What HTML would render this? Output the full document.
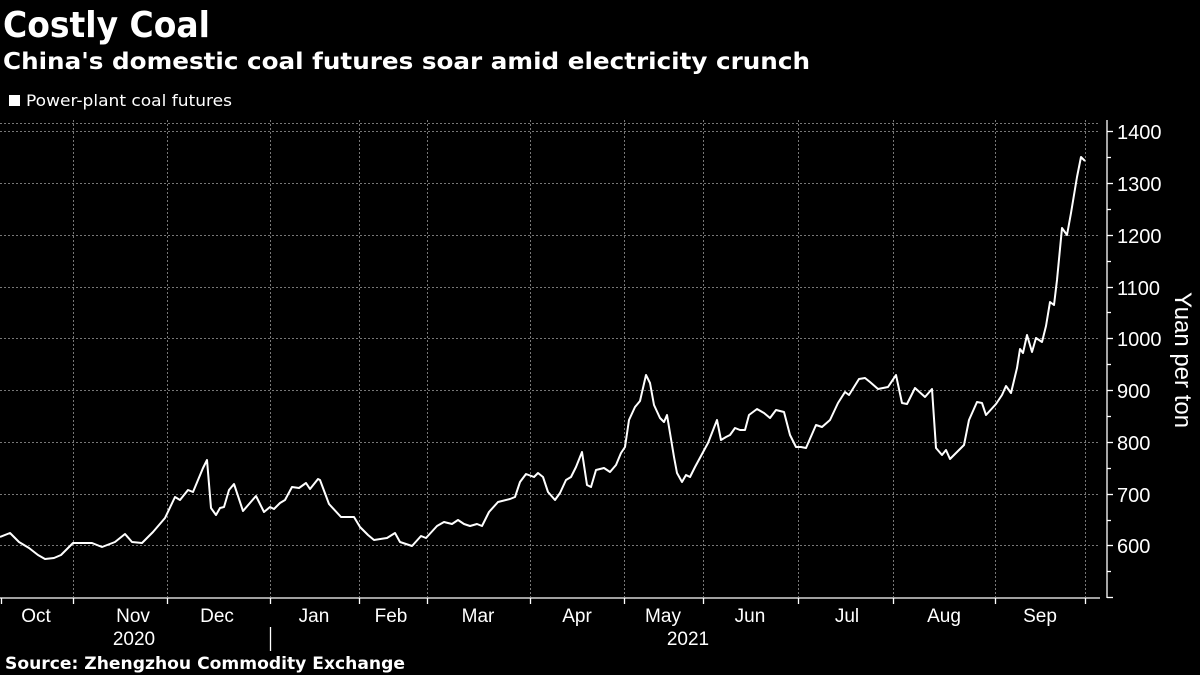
<!DOCTYPE html>
<html><head><meta charset="utf-8"><style>
body{margin:0;background:#000;width:1200px;height:675px;overflow:hidden;font-family:"Liberation Sans",sans-serif;color:#fff}
</style></head><body>
<svg width="1200" height="675" xmlns="http://www.w3.org/2000/svg" style="position:absolute;left:0;top:0">
<rect width="1200" height="675" fill="#000"/>
<text x="3" y="37" font-size="36" font-weight="bold" fill="#fff" font-family="DejaVu Sans, Liberation Sans, sans-serif" textLength="207" lengthAdjust="spacingAndGlyphs">Costly Coal</text>
<text x="3" y="69" font-size="23" font-weight="bold" fill="#fff" font-family="DejaVu Sans, Liberation Sans, sans-serif" textLength="807" lengthAdjust="spacingAndGlyphs">China's domestic coal futures soar amid electricity crunch</text>
<rect x="9" y="95" width="11" height="11" fill="#fff"/>
<text x="26" y="106" font-size="16" fill="#fff" font-family="DejaVu Sans, Liberation Sans, sans-serif" textLength="206" lengthAdjust="spacingAndGlyphs">Power-plant coal futures</text>
<g stroke="#777" stroke-width="1" stroke-dasharray="2,2">
<line x1="0" y1="123.5" x2="1100" y2="123.5"/>
<line x1="0" y1="131.5" x2="1100" y2="131.5"/>
<line x1="0" y1="183.5" x2="1100" y2="183.5"/>
<line x1="0" y1="235.5" x2="1100" y2="235.5"/>
<line x1="0" y1="287.5" x2="1100" y2="287.5"/>
<line x1="0" y1="338.5" x2="1100" y2="338.5"/>
<line x1="0" y1="390.5" x2="1100" y2="390.5"/>
<line x1="0" y1="442.5" x2="1100" y2="442.5"/>
<line x1="0" y1="494.5" x2="1100" y2="494.5"/>
<line x1="0" y1="545.5" x2="1100" y2="545.5"/>
<line x1="73.5" y1="120" x2="73.5" y2="597"/>
<line x1="167.5" y1="120" x2="167.5" y2="597"/>
<line x1="270.5" y1="120" x2="270.5" y2="597"/>
<line x1="359.5" y1="120" x2="359.5" y2="597"/>
<line x1="427.5" y1="120" x2="427.5" y2="597"/>
<line x1="530.5" y1="120" x2="530.5" y2="597"/>
<line x1="624.5" y1="120" x2="624.5" y2="597"/>
<line x1="703.5" y1="120" x2="703.5" y2="597"/>
<line x1="798.5" y1="120" x2="798.5" y2="597"/>
<line x1="893.5" y1="120" x2="893.5" y2="597"/>
<line x1="995.5" y1="120" x2="995.5" y2="597"/>
<line x1="1085.5" y1="120" x2="1085.5" y2="597"/>
</g>
<g stroke="#fff" stroke-width="1.3">
<line x1="0" y1="598" x2="1100" y2="598"/>
<line x1="1107" y1="120" x2="1107" y2="598"/>
<line x1="1.5" y1="598" x2="1.5" y2="604"/>
<line x1="73.5" y1="598" x2="73.5" y2="604"/>
<line x1="167.5" y1="598" x2="167.5" y2="604"/>
<line x1="270.5" y1="598" x2="270.5" y2="604"/>
<line x1="359.5" y1="598" x2="359.5" y2="604"/>
<line x1="427.5" y1="598" x2="427.5" y2="604"/>
<line x1="530.5" y1="598" x2="530.5" y2="604"/>
<line x1="624.5" y1="598" x2="624.5" y2="604"/>
<line x1="703.5" y1="598" x2="703.5" y2="604"/>
<line x1="798.5" y1="598" x2="798.5" y2="604"/>
<line x1="893.5" y1="598" x2="893.5" y2="604"/>
<line x1="995.5" y1="598" x2="995.5" y2="604"/>
<line x1="1085.5" y1="598" x2="1085.5" y2="604"/>
<line x1="1107" y1="131.5" x2="1113" y2="131.5"/>
<line x1="1107" y1="157.5" x2="1111" y2="157.5"/>
<line x1="1107" y1="183.5" x2="1113" y2="183.5"/>
<line x1="1107" y1="209.5" x2="1111" y2="209.5"/>
<line x1="1107" y1="235.5" x2="1113" y2="235.5"/>
<line x1="1107" y1="261.5" x2="1111" y2="261.5"/>
<line x1="1107" y1="287.5" x2="1113" y2="287.5"/>
<line x1="1107" y1="312.5" x2="1111" y2="312.5"/>
<line x1="1107" y1="338.5" x2="1113" y2="338.5"/>
<line x1="1107" y1="364.5" x2="1111" y2="364.5"/>
<line x1="1107" y1="390.5" x2="1113" y2="390.5"/>
<line x1="1107" y1="416.5" x2="1111" y2="416.5"/>
<line x1="1107" y1="442.5" x2="1113" y2="442.5"/>
<line x1="1107" y1="468.5" x2="1111" y2="468.5"/>
<line x1="1107" y1="494.5" x2="1113" y2="494.5"/>
<line x1="1107" y1="520.5" x2="1111" y2="520.5"/>
<line x1="1107" y1="545.5" x2="1113" y2="545.5"/>
<line x1="1107" y1="571.5" x2="1111" y2="571.5"/>
<line x1="1107" y1="597.5" x2="1113" y2="597.5"/>
<line x1="270.5" y1="627" x2="270.5" y2="651"/>
</g>
<g font-size="20" fill="#fff" font-family="Liberation Sans, sans-serif">
<text x="1117" y="139">1400</text>
<text x="1117" y="191">1300</text>
<text x="1117" y="243">1200</text>
<text x="1117" y="295">1100</text>
<text x="1117" y="346">1000</text>
<text x="1117" y="398">900</text>
<text x="1117" y="450">800</text>
<text x="1117" y="502">700</text>
<text x="1117" y="553">600</text>
</g>
<text transform="translate(1175,360) rotate(90)" text-anchor="middle" font-size="24" fill="#fff" font-family="Liberation Sans, sans-serif">Yuan per ton</text>
<g font-size="19" fill="#fff" font-family="Liberation Sans, sans-serif" text-anchor="middle">
<text x="36" y="622">Oct</text>
<text x="133" y="622">Nov</text>
<text x="217" y="622">Dec</text>
<text x="314" y="622">Jan</text>
<text x="391" y="622">Feb</text>
<text x="478" y="622">Mar</text>
<text x="577" y="622">Apr</text>
<text x="663" y="622">May</text>
<text x="750" y="622">Jun</text>
<text x="847" y="622">Jul</text>
<text x="944" y="622">Aug</text>
<text x="1040" y="622">Sep</text>
<text x="134" y="645">2020</text>
<text x="688" y="645">2021</text>
</g>
<text x="5" y="669" font-size="17" font-weight="bold" fill="#fff" font-family="DejaVu Sans, Liberation Sans, sans-serif" textLength="400" lengthAdjust="spacingAndGlyphs">Source: Zhengzhou Commodity Exchange</text>
<polyline fill="none" stroke="#fff" stroke-width="2" stroke-linejoin="round" points="0,537 10,533 19,542 29,548 38,555 45,559 54,558 61,555 73,543 92,543 102,547 115,542 125,534 132,542 142,543 153,532 165,518 175,497 180,500 188,490 193,492 203,468 207,460 211,508 216,515 220,508 224,507 229,490 234,484 243,511 256,496 264,512 270,507 274,509 280,503 285,500 292,487 299,488 306,483 310,489 318,479 320,480 329,504 341,517 354,517 360,527 368,535 374,540 387,538 395,533 400,542 412,546 421,536 426,538 437,526 444,522 452,524 458,520 464,524 470,526 477,524 482,526 489,512 498,502 510,499 515,497 520,482 526,474 534,477 538,473 543,477 548,492 555,500 560,493 566,480 571,477 576,467 582,452 587,485 591,487 596,470 604,468 610,472 616,465 621,453 625,447 629,420 635,407 640,401 646,375 650,383 654,405 660,418 664,422 667,415 674,457 677,473 682,482 686,475 690,477 695,467 708,443 717,420 721,440 726,437 730,435 735,428 740,430 745,430 749,415 757,409 764,413 770,418 776,410 784,412 790,435 796,447 801,447 806,448 816,425 822,427 830,420 838,403 845,392 849,395 859,379 865,378 870,382 878,389 888,387 896,375 902,403 907,404 915,388 925,397 932,389 936,448 942,455 946,450 950,459 957,452 964,445 969,420 977,402 982,403 986,415 996,404 1002,395 1006,386 1011,393 1017,368 1020,349 1023,353 1027,335 1032,352 1036,338 1042,342 1046,326 1050,302 1054,305 1057,280 1062,228 1067,235 1071,213 1077,177 1081,157 1085,161"/>
</svg>
</body></html>
